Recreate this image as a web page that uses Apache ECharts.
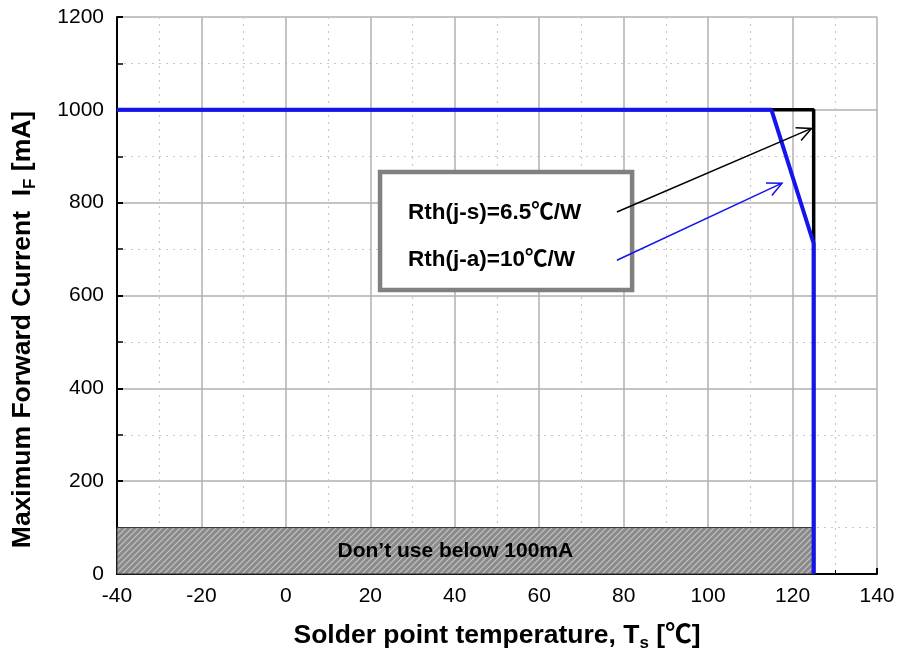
<!DOCTYPE html>
<html><head><meta charset="utf-8">
<script src="https://cdn.jsdelivr.net/npm/echarts@6/dist/echarts.min.js"></script>
<style>html,body{margin:0;padding:0;background:#fff}#c{width:900px;height:658px}</style>
</head><body><div id="c"></div>
<script>
// data
var rthJS = [[-40,1000],[125,1000],[125,712],[125,0]];      // black: Rth(j-s)
var rthJA = [[-40,1000],[115,1000],[125,712],[125,0]];      // blue: Rth(j-a)
var noUseZone = [[-40,0,125,100]];                          // x1,y1,x2,y2
var noUseText = "Don\u2019t use below 100mA";
var legendBox = [[22.3,866,82,612]];
var labelJS = "Rth(j-s)=6.5\u2103/W";
var labelJA = "Rth(j-a)=10\u2103/W";
var arrowJS = [[78.4,780,124.5,960]];
var arrowJA = [[78.4,676,117.5,842]];

var FONT = '"Liberation Sans", Arial, "Noto Sans CJK SC", sans-serif';
var chart = echarts.init(document.getElementById('c'));

// hatch pattern
var pc = document.createElement('canvas');
pc.width = 6; pc.height = 6;
var g = pc.getContext('2d');
g.fillStyle = '#8a8a8a'; g.fillRect(0,0,6,6);
g.strokeStyle = '#c4c4c4'; g.lineWidth = 1.2;
g.beginPath();
g.moveTo(-1,7); g.lineTo(7,-1);
g.moveTo(-4,4); g.lineTo(4,-4);
g.moveTo(2,10); g.lineTo(10,2);
g.stroke();

function arrowRender(color){
  return function(params, api){
    var p1 = api.coord([api.value(0), api.value(1)]);
    var p2 = api.coord([api.value(2), api.value(3)]);
    var ang = Math.atan2(p2[1]-p1[1], p2[0]-p1[0]);
    var L = 16, a = 0.45;
    var h1 = [p2[0]-L*Math.cos(ang-a), p2[1]-L*Math.sin(ang-a)];
    var h2 = [p2[0]-L*Math.cos(ang+a), p2[1]-L*Math.sin(ang+a)];
    return {type:'group', children:[
      {type:'line', shape:{x1:p1[0],y1:p1[1],x2:p2[0],y2:p2[1]}, style:{stroke:color,lineWidth:1.5}},
      {type:'polyline', shape:{points:[h1,p2,h2]}, style:{stroke:color,lineWidth:1.5,fill:null}}
    ]};
  };
}

var richName = {
  b:{fontSize:26.5,fontWeight:'bold',fontFamily:FONT,color:'#000'},
  s:{fontSize:17,fontWeight:'bold',fontFamily:FONT,color:'#000',verticalAlign:'bottom',padding:[15,0,0,0]}
};

var option = {
  animation:false,
  grid:{left:117,right:23,top:17,bottom:84},
  xAxis:{
    type:'value',min:-40,max:140,interval:20,
    axisLine:{onZero:false,lineStyle:{color:'#000',width:2}},
    axisTick:{inside:true,length:6,lineStyle:{color:'#000',width:2}},
    minorTick:{show:true,splitNumber:2,length:4,lineStyle:{color:'#000',width:1}},
    axisLabel:{color:'#000',fontSize:21,fontFamily:FONT,margin:12},
    splitLine:{show:true,lineStyle:{color:'#b0b0b0',width:1.5}},
    minorSplitLine:{show:true,lineStyle:{color:'#c8c8c8',type:[2,5],width:1.2}},
    name:'{b|Solder point temperature, T}{s|s}{b| [\u2103]}',
    nameLocation:'middle',nameGap:46,
    nameTextStyle:{color:'#000',fontSize:26.5,fontWeight:'bold',fontFamily:FONT,rich:richName}
  },
  yAxis:{
    type:'value',min:0,max:1200,interval:200,
    axisLine:{onZero:false,lineStyle:{color:'#000',width:2}},
    axisTick:{inside:true,length:6,lineStyle:{color:'#000',width:2}},
    minorTick:{show:true,splitNumber:2,length:6,lineStyle:{color:'#000',width:1.5}},
    axisLabel:{color:'#000',fontSize:21,fontFamily:FONT,margin:13,formatter:function(v){return String(v);}},
    splitLine:{show:true,lineStyle:{color:'#b0b0b0',width:1.5}},
    minorSplitLine:{show:true,lineStyle:{color:'#c8c8c8',type:[2,5],width:1.2}},
    name:'{b|Maximum Forward Current  I}{s|F}{b| [mA]}',
    nameLocation:'middle',nameGap:78,
    nameTextStyle:{color:'#000',fontSize:26.5,fontWeight:'bold',fontFamily:FONT,rich:richName,padding:[0,68,0,0]}
  },
  series:[
    {type:'custom', z:2, data:noUseZone, renderItem:function(params, api){
      var p1 = api.coord([api.value(0), api.value(3)]);
      var p2 = api.coord([api.value(2), api.value(1)]);
      return {type:'group',children:[
        {type:'rect', shape:{x:p1[0],y:p1[1],width:p2[0]-p1[0],height:p2[1]-p1[1]},
         style:{fill:{image:pc,repeat:'repeat'},stroke:'#333',lineWidth:1}},
        {type:'text', style:{x:(p1[0]+p2[0])/2-10,y:(p1[1]+p2[1])/2,text:noUseText,
          font:'bold 21px '+FONT,fill:'#000',align:'center',verticalAlign:'middle'}}
      ]};
    }},
    {type:'line', z:3, data:rthJS, symbol:'none', lineStyle:{color:'#000',width:3.5}},
    {type:'line', z:4, data:rthJA, symbol:'none', lineStyle:{color:'#1414ee',width:4}},
    {type:'custom', z:5, data:legendBox, renderItem:function(params, api){
      var p1 = api.coord([api.value(0), api.value(1)]);
      var p2 = api.coord([api.value(2), api.value(3)]);
      var x0 = p1[0]+28;
      return {type:'group',children:[
        {type:'rect', shape:{x:p1[0],y:p1[1],width:p2[0]-p1[0],height:p2[1]-p1[1]},
         style:{fill:'#fff',stroke:'#808080',lineWidth:4.5}},
        {type:'text', style:{x:x0,y:p1[1]+41,text:labelJS,font:'bold 22.5px '+FONT,fill:'#000',verticalAlign:'middle'}},
        {type:'text', style:{x:x0,y:p1[1]+88,text:labelJA,font:'bold 22.5px '+FONT,fill:'#000',verticalAlign:'middle'}}
      ]};
    }},
    {type:'custom', z:6, data:arrowJS, renderItem:arrowRender('#000')},
    {type:'custom', z:6, data:arrowJA, renderItem:arrowRender('#1414ee')}
  ]
};
chart.setOption(option);
</script></body></html>
